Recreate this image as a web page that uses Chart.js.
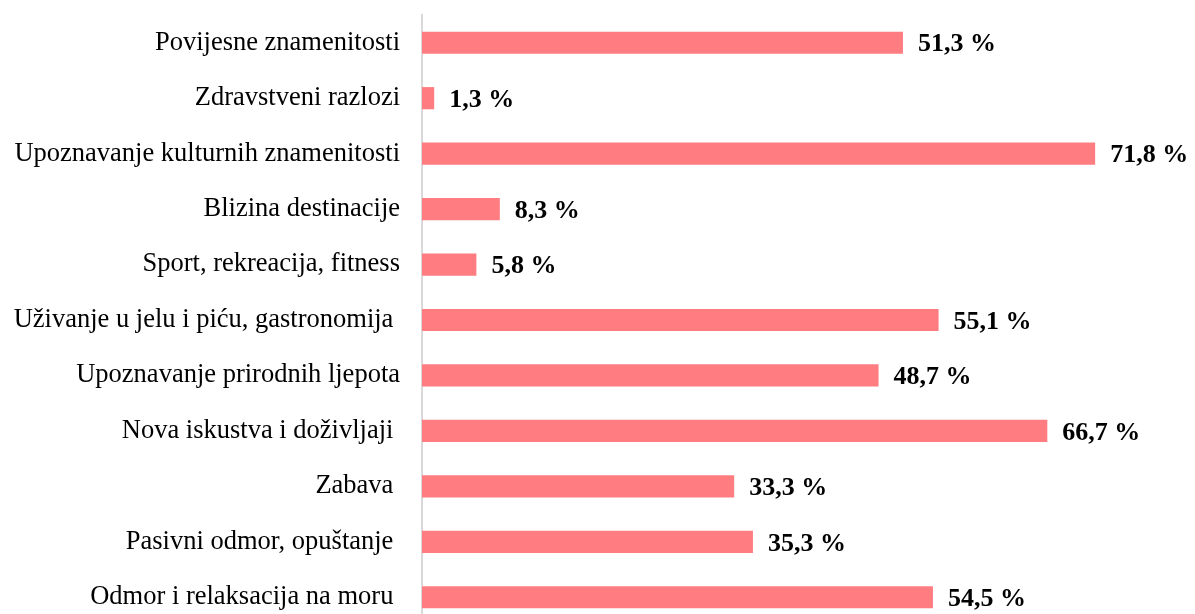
<!DOCTYPE html>
<html>
<head>
<meta charset="utf-8">
<script src="https://cdn.jsdelivr.net/npm/chart.js@4"></script>
<style>
  html, body { margin: 0; padding: 0; background: #fff; overflow: hidden; }
  canvas { display: block; }
</style>
</head>
<body>
<canvas id="motiviChart" width="1195" height="625"></canvas>
<script>
// kategorije (trailing spaces are kept as in the original labels)
const categories = [
    'Povijesne znamenitosti',
    'Zdravstveni razlozi',
    'Upoznavanje kulturnih znamenitosti',
    'Blizina destinacije',
    'Sport, rekreacija, fitness',
    'Uživanje u jelu i piću, gastronomija ',
    'Upoznavanje prirodnih ljepota',
    'Nova iskustva i doživljaji ',
    'Zabava ',
    'Pasivni odmor, opuštanje ',
    'Odmor i relaksacija na moru '
];
const shares = [51.3, 1.3, 71.8, 8.3, 5.8, 55.1, 48.7, 66.7, 33.3, 35.3, 54.5];

const serif = "'Liberation Serif', 'Times New Roman', serif";

// value labels next to bars
const valueLabels = {
    id: 'valueLabels',
    afterDatasetsDraw(chart) {
        const ctx = chart.ctx;
        const meta = chart.getDatasetMeta(0);
        ctx.save();
        ctx.font = 'bold 26px ' + serif;
        ctx.fillStyle = '#000';
        ctx.textAlign = 'left';
        ctx.textBaseline = 'middle';
        meta.data.forEach((bar, i) => {
            const txt = shares[i].toFixed(1).replace('.', ',') + ' %';
            ctx.fillText(txt, bar.x + 15, bar.y + 2);
        });
        ctx.restore();
    }
};

const ctx = document.getElementById('motiviChart').getContext('2d');
const motiviChart = new Chart(ctx, {
    type: 'bar',
    data: {
        labels: categories,
        datasets: [{
            data: shares,
            backgroundColor: '#FF7C80',
            borderWidth: 0,
            categoryPercentage: 1,
            barPercentage: 0.4
        }]
    },
    options: {
        indexAxis: 'y',
        responsive: false,
        animation: false,
        layout: { padding: { top: 15, right: 23, bottom: 0, left: 0 } },
        scales: {
            x: {
                display: false,
                min: 0,
                max: 80
            },
            y: {
                afterFit: s => {
                    s.width = 422;
                    s.paddingTop = 0;
                    s.paddingBottom = 0;
                },
                grid: { display: false, drawTicks: false },
                border: { display: true, color: '#d9d9d9', width: 2 },
                ticks: {
                    padding: 22,
                    color: '#000',
                    font: { family: serif, size: 26.5 }
                }
            }
        },
        plugins: {
            legend: { display: false },
            tooltip: { enabled: false }
        }
    },
    plugins: [valueLabels]
});
</script>
</body>
</html>
